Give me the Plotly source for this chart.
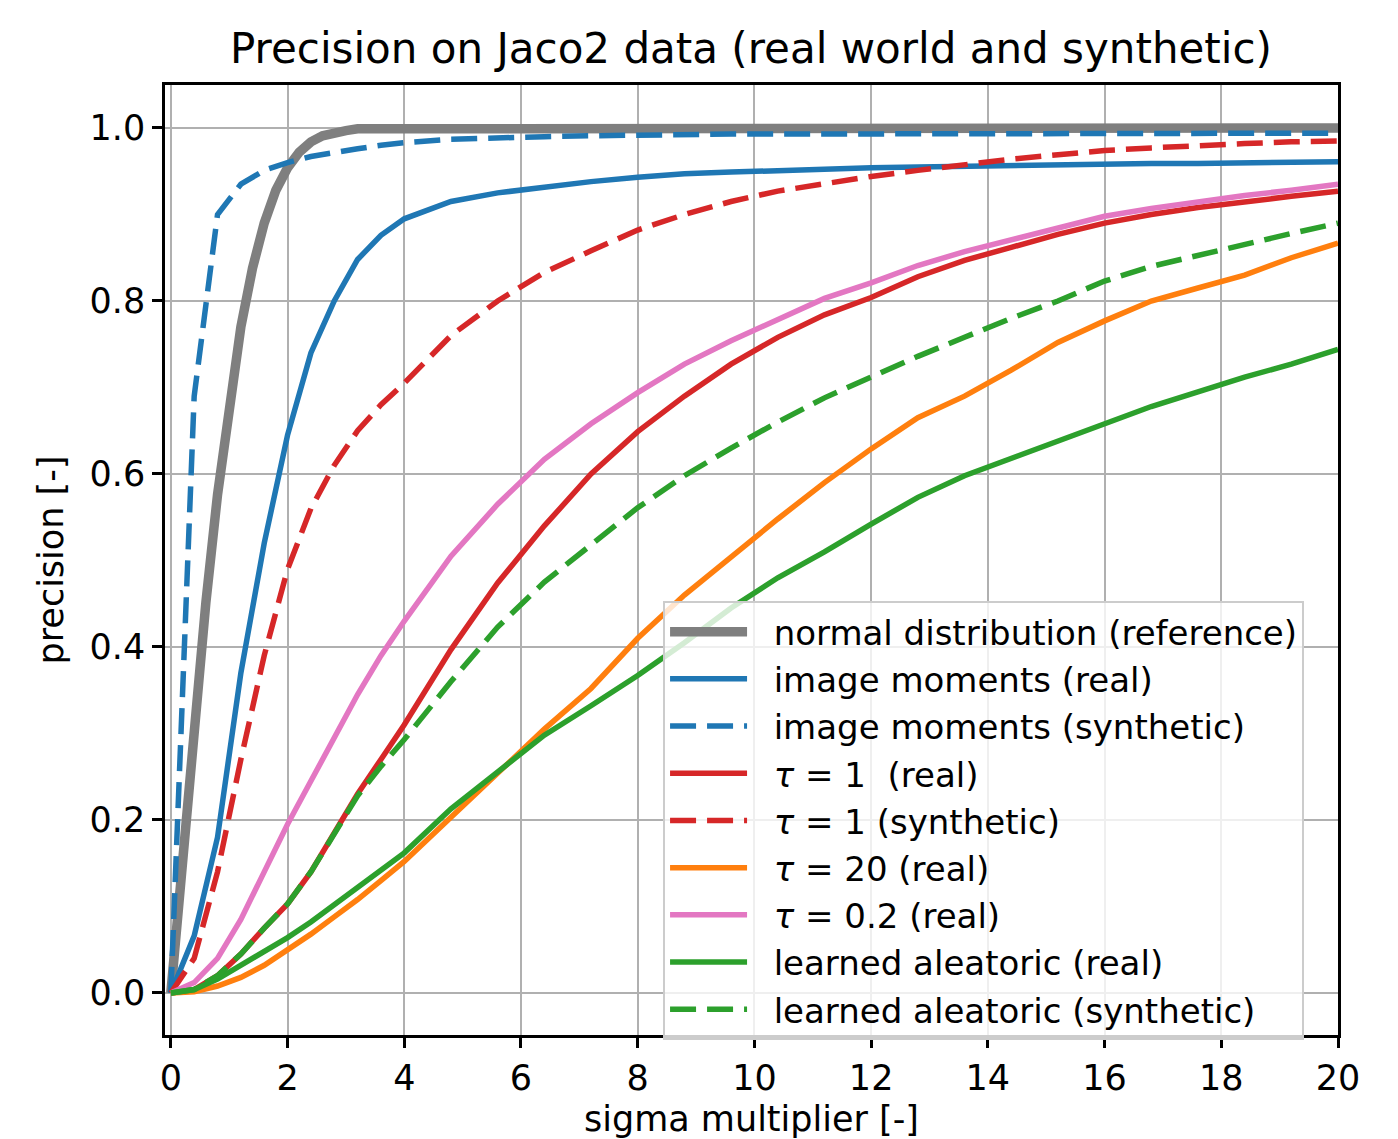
import plotly.graph_objects as go

# ---------------- data ----------------
x_ref = [0.0, 0.2, 0.4, 0.6, 0.8, 1.0, 1.2, 1.4, 1.6, 1.8, 2.0, 2.2, 2.4, 2.6, 2.8,
         3.0, 3.2, 3.4, 3.6, 3.8, 4.0, 20.0]
normal_ref = [0.0, 0.159, 0.311, 0.451, 0.576, 0.683, 0.770, 0.838, 0.890, 0.928, 0.954,
              0.972, 0.984, 0.991, 0.995, 0.997, 0.999, 0.999, 1.0, 1.0, 1.0, 1.0]

x_grid = [0.0, 0.4, 0.8, 1.2, 1.6, 2.0, 2.4, 2.8, 3.2, 3.6, 4.0, 4.8, 5.6, 6.4, 7.2, 8.0,
          8.8, 9.6, 10.4, 11.2, 12.0, 12.8, 13.6, 14.4, 15.2, 16.0, 16.8, 17.6, 18.4, 19.2, 20.0]

img_mom_real = [0.0, 0.066, 0.18, 0.37, 0.52, 0.645, 0.74, 0.80, 0.848, 0.876, 0.895, 0.915,
                0.925, 0.932, 0.938, 0.943, 0.947, 0.949, 0.951, 0.953, 0.954, 0.955, 0.956,
                0.957, 0.958, 0.958, 0.959, 0.959, 0.960, 0.960, 0.961]
img_mom_syn = [0.0, 0.69, 0.90, 0.935, 0.951, 0.960, 0.967, 0.972, 0.976, 0.980, 0.983, 0.987,
               0.989, 0.990, 0.991, 0.992, 0.992, 0.993, 0.993, 0.993, 0.993, 0.993, 0.994,
               0.994, 0.994, 0.994, 0.994, 0.994, 0.994, 0.994, 0.994]
tau1_real = [0.0, 0.004, 0.02, 0.045, 0.075, 0.103, 0.14, 0.185, 0.23, 0.27, 0.31, 0.397,
             0.474, 0.54, 0.60, 0.649, 0.69, 0.727, 0.758, 0.784, 0.804, 0.828, 0.847, 0.862,
             0.877, 0.89, 0.90, 0.908, 0.915, 0.921, 0.927]
tau1_syn = [0.0, 0.04, 0.14, 0.27, 0.39, 0.49, 0.56, 0.61, 0.65, 0.68, 0.705, 0.76, 0.80,
            0.833, 0.858, 0.882, 0.90, 0.915, 0.927, 0.936, 0.944, 0.951, 0.958, 0.964,
            0.969, 0.974, 0.977, 0.980, 0.982, 0.984, 0.985]
tau20_real = [0.0, 0.0015, 0.008, 0.018, 0.032, 0.05, 0.068, 0.088, 0.108, 0.13, 0.152, 0.203,
              0.255, 0.305, 0.352, 0.41, 0.46, 0.505, 0.548, 0.59, 0.629, 0.665, 0.69, 0.72,
              0.752, 0.777, 0.80, 0.815, 0.83, 0.85, 0.867]
tau02_real = [0.0, 0.012, 0.04, 0.085, 0.14, 0.195, 0.245, 0.295, 0.345, 0.39, 0.43, 0.505,
              0.565, 0.617, 0.658, 0.694, 0.727, 0.754, 0.779, 0.803, 0.821, 0.841, 0.857,
              0.871, 0.885, 0.898, 0.907, 0.915, 0.922, 0.928, 0.935]
aleatoric_real = [0.0, 0.004, 0.016, 0.032, 0.048, 0.064, 0.082, 0.102, 0.122, 0.142, 0.162,
                  0.213, 0.255, 0.298, 0.332, 0.367, 0.405, 0.445, 0.48, 0.51, 0.542, 0.573,
                  0.598, 0.618, 0.637, 0.658, 0.678, 0.695, 0.712, 0.727, 0.744]
aleatoric_syn = [0.0, 0.004, 0.02, 0.045, 0.075, 0.103, 0.14, 0.185, 0.228, 0.262, 0.293, 0.36,
                 0.423, 0.475, 0.518, 0.561, 0.598, 0.63, 0.66, 0.688, 0.712, 0.736, 0.758,
                 0.78, 0.80, 0.823, 0.84, 0.853, 0.866, 0.878, 0.89]

x_ticks = [0, 2, 4, 6, 8, 10, 12, 14, 16, 18, 20]
y_ticks = [0.0, 0.2, 0.4, 0.6, 0.8, 1.0]

TITLE = "Precision on Jaco2 data (real world and synthetic)"
XLABEL = "sigma multiplier [-]"
YLABEL = "precision [-]"

# ---------------- styling ----------------
BLUE, ORANGE, GREEN, RED, PINK, GRAY = "#1f77b4", "#ff7f0e", "#2ca02c", "#d62728", "#e377c2", "#7f7f7f"
LW = 5.5
DASH = "26px,11px"
FONT = "DejaVu Sans"
PAD = "\u00a0\u00a0"

series = [
    (x_ref, normal_ref, "normal distribution (reference)", GRAY, 9.5, "solid"),
    (x_grid, img_mom_real, "image moments (real)", BLUE, LW, "solid"),
    (x_grid, img_mom_syn, "image moments (synthetic)", BLUE, LW, DASH),
    (x_grid, tau1_real, "<i>τ</i> = 1\u00a0\u00a0(real)", RED, LW, "solid"),
    (x_grid, tau1_syn, "<i>τ</i> = 1 (synthetic)", RED, LW, DASH),
    (x_grid, tau20_real, "<i>τ</i> = 20 (real)", ORANGE, LW, "solid"),
    (x_grid, tau02_real, "<i>τ</i> = 0.2 (real)", PINK, LW, "solid"),
    (x_grid, aleatoric_real, "learned aleatoric (real)", GREEN, LW, "solid"),
    (x_grid, aleatoric_syn, "learned aleatoric (synthetic)", GREEN, LW, DASH),
]

fig = go.Figure()
for i, (xs, ys, name, color, width, dash) in enumerate(series):
    fig.add_trace(go.Scatter(
        x=xs, y=ys, mode="lines", name=PAD + name, legendgroup=f"g{i}",
        line=dict(color=color, width=width, dash=dash),
    ))

axis_common = dict(
    showline=True, linecolor="black", linewidth=2.5, mirror=True,
    showgrid=True, gridcolor="#b0b0b0", gridwidth=2.2,
    zeroline=False, ticks="outside", ticklen=10, tickwidth=2.5, tickcolor="black",
    tickfont=dict(family=FONT, size=35, color="black"),
)

W, H = 1390, 1131
fig.update_layout(
    width=W, height=H,
    margin=dict(l=157, r=60, t=77, b=104),
    paper_bgcolor="white", plot_bgcolor="white",
    font=dict(family=FONT, size=35, color="black"),
    title=dict(text=TITLE, x=743 / W, xanchor="center", y=1 - 40 / H, yanchor="middle",
               yref="container", font=dict(family=FONT, size=42, color="black")),
    xaxis=dict(range=[-0.1, 20], tickvals=x_ticks, ticktext=[str(t) for t in x_ticks],
               title=dict(text=XLABEL, standoff=10, font=dict(family=FONT, size=35)),
               automargin=False, **axis_common),
    yaxis=dict(range=[-0.0486, 1.0497], tickvals=y_ticks, ticktext=[f"{t:.1f}" for t in y_ticks],
               title=dict(text=YLABEL, standoff=16, font=dict(family=FONT, size=35)),
               automargin=False, **axis_common),
    legend=dict(
        x=0.4246, y=0.4568, xanchor="left", yanchor="top",
        bgcolor="rgba(255,255,255,0.8)", bordercolor="#cccccc", borderwidth=2,
        font=dict(family=FONT, size=34, color="black"),
        itemwidth=77, tracegroupgap=0, traceorder="normal",
    ),
    showlegend=True,
)

fig.write_html("out.html")
